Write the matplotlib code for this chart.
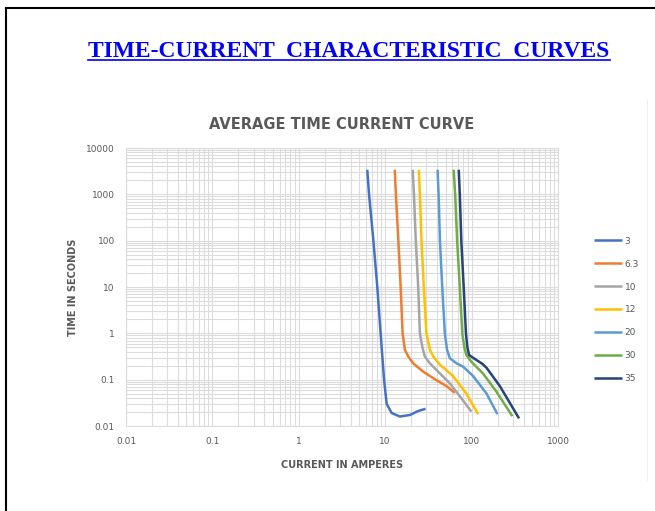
import matplotlib.pyplot as plt
from matplotlib.lines import Line2D
from matplotlib.ticker import LogLocator, FixedLocator, FixedFormatter
import numpy as np

# current (A) / time (s) pairs
labels = ['3', '6.3', '10', '12', '20', '30', '35']
colors = ['#4472C4', '#ED7D31', '#A5A5A5', '#FFC000', '#5B9BD5', '#70AD47', '#264478']

amps_3 = [6.2, 6.5, 7.3, 8.1, 8.85, 9.7, 10.4, 11.9, 14.8, 19.3, 24.0, 29.3]
secs_3 = [3400, 1000, 100, 10, 1, 0.1, 0.03, 0.019, 0.016, 0.0173, 0.021, 0.0235]

amps_6 = [12.9, 13.3, 14.2, 15.1, 15.9, 16.9, 18.5, 21.1, 27.5, 39, 51, 64]
secs_6 = [3400, 1000, 100, 10, 1, 0.44, 0.315, 0.225, 0.149, 0.098, 0.073, 0.052]

amps_10 = [20.8, 21.5, 22.6, 24.1, 25.2, 27, 28.8, 32.9, 41, 56, 73, 99.6]
secs_10 = [3400, 1000, 100, 10, 1, 0.49, 0.315, 0.225, 0.149, 0.083, 0.044, 0.0204]

amps_12 = [24.5, 25.2, 26.3, 28, 30, 32.9, 36, 43, 61, 87, 119]
secs_12 = [3400, 1000, 100, 10, 1, 0.44, 0.315, 0.21, 0.12, 0.05, 0.018]

amps_20 = [40.4, 41.5, 43, 45.7, 49, 52, 56, 67, 80, 104, 149, 199]
secs_20 = [3400, 1000, 100, 10, 1, 0.44, 0.29, 0.225, 0.19, 0.12, 0.05, 0.018]

amps_30 = [62, 64.5, 68, 73, 78, 82, 87, 100, 136, 194, 296]
secs_30 = [3400, 1000, 100, 10, 1, 0.52, 0.34, 0.24, 0.135, 0.055, 0.0163]

amps_35 = [71, 73, 76, 81, 86, 89, 93.5, 109, 133, 149, 212, 354]
secs_35 = [3400, 1000, 100, 10, 1, 0.52, 0.34, 0.28, 0.22, 0.18, 0.073, 0.0146]

x_ticks = [0.01, 0.1, 1, 10, 100, 1000]
x_labels = ['0.01', '0.1', '1', '10', '100', '1000']
y_ticks = [0.01, 0.1, 1, 10, 100, 1000, 10000]
y_labels = ['0.01', '0.1', '1', '10', '100', '1000', '10000']

series = [(amps_3, secs_3), (amps_6, secs_6), (amps_10, secs_10), (amps_12, secs_12),
          (amps_20, secs_20), (amps_30, secs_30), (amps_35, secs_35)]

txt = '#595959'
grid = '#dcdcdc'

W, H = 655, 511
fig = plt.figure(figsize=(W / 100, H / 100), dpi=100)
ax = fig.add_axes([126 / W, 1 - 426 / H, 432 / W, 278 / H])

for (a, s), lab, c in zip(series, labels, colors):
    ax.plot(a, s, color=c, lw=1.8, label=lab, solid_joinstyle='round', solid_capstyle='butt')

ax.set_xscale('log')
ax.set_yscale('log')
ax.set_xlim(0.01, 1000)
ax.set_ylim(0.01, 10000)
ax.xaxis.set_major_locator(FixedLocator(x_ticks))
ax.xaxis.set_major_formatter(FixedFormatter(x_labels))
ax.yaxis.set_major_locator(FixedLocator(y_ticks))
ax.yaxis.set_major_formatter(FixedFormatter(y_labels))
ax.xaxis.set_minor_locator(LogLocator(base=10, subs=np.arange(2, 10), numticks=20))
ax.yaxis.set_minor_locator(LogLocator(base=10, subs=np.arange(2, 10), numticks=20))
ax.xaxis.set_minor_formatter(plt.NullFormatter())
ax.yaxis.set_minor_formatter(plt.NullFormatter())
ax.grid(True, which='both', color=grid, lw=0.8)
ax.set_axisbelow(True)
for sp in ax.spines.values():
    sp.set_color(grid)
    sp.set_linewidth(0.8)
ax.tick_params(which='both', length=0, labelsize=6.5, labelcolor=txt, pad=8)

ax.set_xlabel('CURRENT IN AMPERES', fontsize=7, fontweight='bold', color=txt, labelpad=10)
ax.set_ylabel('TIME IN SECONDS', fontsize=7, fontweight='bold', color=txt, labelpad=6)
ax.set_title('AVERAGE TIME CURRENT CURVE', fontsize=10.5, fontweight='bold', color=txt, pad=14)

leg = ax.legend(loc='upper left', bbox_to_anchor=(589 / W, 1 - 232 / H), bbox_transform=fig.transFigure,
                frameon=False, fontsize=6.5, handlelength=3.2, handletextpad=0.25, labelspacing=1.55,
                borderpad=0)
for t in leg.get_texts():
    t.set_color(txt)

# big slide heading
fig.text(88 / W, 1 - 57 / H, 'TIME-CURRENT  CHARACTERISTIC  CURVES', fontsize=16.9, color='#0000FF',
         family='Liberation Serif', fontweight='bold', ha='left', va='baseline')
fig.add_artist(Line2D([88 / W, 610 / W], [1 - 60 / H, 1 - 60 / H], color='#0000FF', lw=1.2))

# page frame: left and top edges, faint chart border on the right
fig.add_artist(Line2D([6 / W, 6 / W], [0, 1 - 8 / H], color='black', lw=1.5))
fig.add_artist(Line2D([6 / W, 1], [1 - 8 / H, 1 - 8 / H], color='black', lw=1.5))
fig.add_artist(Line2D([647 / W, 647 / W], [1 - 480 / H, 1 - 100 / H], color='#eeeeee', lw=0.8))

fig.savefig('out.png', dpi=100)
